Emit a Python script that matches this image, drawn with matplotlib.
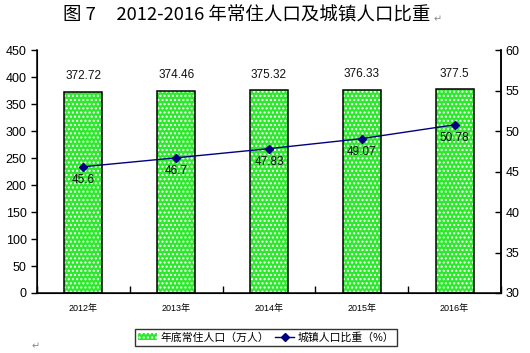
import numpy as np
import matplotlib.pyplot as plt

plt.rcParams['font.family'] = ['Liberation Sans', 'Noto Sans CJK SC', 'DejaVu Sans']

years = ['2012年', '2013年', '2014年', '2015年', '2016年']
population = [372.72, 374.46, 375.32, 376.33, 377.5]
pop_labels = ['372.72', '374.46', '375.32', '376.33', '377.5']
urban_ratio = [45.6, 46.7, 47.83, 49.07, 50.78]
ratio_labels = ['45.6', '46.7', '47.83', '49.07', '50.78']

fig = plt.figure(figsize=(5.3, 3.53), dpi=100)
ax = fig.add_axes([0.0698, 0.170, 0.8755, 0.688])
x = np.arange(len(years))

# green bars with white dotted pattern, black outline drawn separately
ax.bar(x, population, width=0.41, color='#2ee82e', edgecolor='white',
       hatch='....', linewidth=0)
ax.bar(x, population, width=0.41, fill=False, edgecolor='black', linewidth=1.1)
for xi, v, s in zip(x, population, pop_labels):
    ax.text(xi, v + 18, s, ha='center', va='bottom', fontsize=8.5, color='#111111')

ax.set_xlim(-0.5, 4.5)
ax.set_ylim(0, 450)
ax.set_yticks(range(0, 451, 50))
ax.tick_params(axis='y', labelsize=9, direction='out', length=4, width=1)
ax.set_xticks(x)
ax.set_xticklabels(years, fontsize=6.5)
ax.tick_params(axis='x', length=0, pad=8)
ax.set_xticks(np.arange(-0.5, 5, 1), minor=True)
ax.tick_params(axis='x', which='minor', direction='in', length=5, width=1)
ax.spines['top'].set_visible(False)
for sp in ['left', 'bottom', 'right']:
    ax.spines[sp].set_linewidth(1.1)

ax2 = ax.twinx()
ax2.plot(x, urban_ratio, color='#000080', marker='D', markersize=4, linewidth=1)
for xi, v, s in zip(x, urban_ratio, ratio_labels):
    ax2.text(xi, v - 0.9, s, ha='center', va='top', fontsize=8.5, color='#111111')
ax2.set_ylim(30, 60)
ax2.set_yticks(range(30, 61, 5))
ax2.tick_params(axis='y', labelsize=9, direction='in', length=4, width=1)
ax2.spines['top'].set_visible(False)
ax2.spines['right'].set_linewidth(1.1)

h1 = plt.Rectangle((0, 0), 1, 1, facecolor='#2ee82e', edgecolor='white', hatch='....', linewidth=0)
h2, = ax2.plot([], [], color='#000080', marker='D', markersize=4, linewidth=1)
leg = fig.legend([h1, h2], ['年底常住人口（万人）', '城镇人口比重（%）'],
                 loc='center', bbox_to_anchor=(0.502, 0.045), ncol=2, fontsize=7.5,
                 frameon=True, fancybox=False, edgecolor='black', handlelength=1.8,
                 handletextpad=0.3, columnspacing=0.6, borderpad=0.3, borderaxespad=0)
leg.get_frame().set_linewidth(1)
for t in leg.get_texts():
    t.set_fontsize(7.8)

fig.text(0.119, 0.955, '图 7     2012-2016 年常住人口及城镇人口比重', ha='left', va='center',
         fontsize=13.3, family=['Noto Sans CJK SC', 'DejaVu Sans'])
fig.text(0.818, 0.945, '↵', fontsize=7, color='#888888', family='DejaVu Sans', va='center')
fig.text(0.06, 0.02, '↵', fontsize=7, color='#888888', family='DejaVu Sans', va='center')

fig.savefig('out.png', dpi=100)
